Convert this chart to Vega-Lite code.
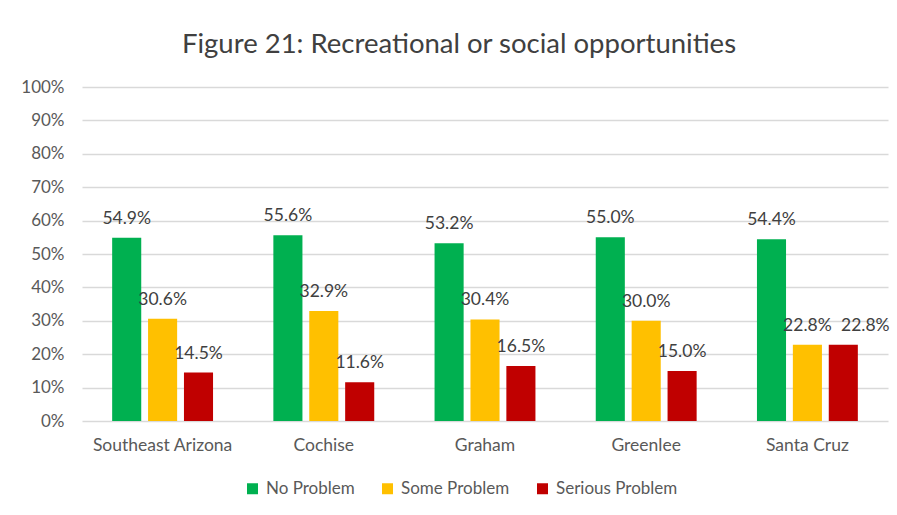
{
  "$schema": "https://vega.github.io/schema/vega-lite/v6.json",
  "width": 806,
  "height": 334,
  "autosize": "none",
  "padding": {"left": 82, "top": 87, "right": 9, "bottom": 94},
  "background": "white",
  "title": {"text": "Figure 21: Recreational or social opportunities", "fontSize": 27.5, "font": "Lato", "fontWeight": "normal", "color": "#404040", "offset": 20, "dx": -26},
  "data": {"values": [
    {"region": "Southeast Arizona", "level": "No Problem", "value": 0.549},
    {"region": "Southeast Arizona", "level": "Some Problem", "value": 0.306},
    {"region": "Southeast Arizona", "level": "Serious Problem", "value": 0.145},
    {"region": "Cochise", "level": "No Problem", "value": 0.556},
    {"region": "Cochise", "level": "Some Problem", "value": 0.329},
    {"region": "Cochise", "level": "Serious Problem", "value": 0.116},
    {"region": "Graham", "level": "No Problem", "value": 0.532},
    {"region": "Graham", "level": "Some Problem", "value": 0.304},
    {"region": "Graham", "level": "Serious Problem", "value": 0.165},
    {"region": "Greenlee", "level": "No Problem", "value": 0.55},
    {"region": "Greenlee", "level": "Some Problem", "value": 0.30},
    {"region": "Greenlee", "level": "Serious Problem", "value": 0.15},
    {"region": "Santa Cruz", "level": "No Problem", "value": 0.544},
    {"region": "Santa Cruz", "level": "Some Problem", "value": 0.228},
    {"region": "Santa Cruz", "level": "Serious Problem", "value": 0.228}
  ]},
  "encoding": {
    "x": {"field": "region", "type": "nominal", "sort": null,
      "scale": {"paddingInner": 0, "paddingOuter": 0},
      "axis": {"title": null, "labelAngle": 0, "domain": false, "ticks": false, "labelPadding": 15, "labelFontSize": 17.5, "labelFont": "Lato", "labelColor": "#595959"}},
    "xOffset": {"field": "level", "type": "nominal", "sort": ["No Problem", "Some Problem", "Serious Problem"],
      "scale": {"paddingInner": 0.19, "paddingOuter": 0.84}},
    "y": {"field": "value", "type": "quantitative",
      "scale": {"domain": [0, 1], "nice": false},
      "axis": {"title": null, "format": ".0%", "values": [0, 0.1, 0.2, 0.3, 0.4, 0.5, 0.6, 0.7, 0.8, 0.9, 1], "labelOverlap": false, "domain": false, "ticks": false, "labelPadding": 18, "labelFontSize": 17, "labelFont": "Lato", "labelColor": "#595959", "gridColor": "#d9d9d9", "gridWidth": 1.5}}
  },
  "layer": [
    {"mark": {"type": "bar"},
     "encoding": {
       "color": {"field": "level", "type": "nominal", "sort": ["No Problem", "Some Problem", "Serious Problem"],
         "scale": {"domain": ["No Problem", "Some Problem", "Serious Problem"], "range": ["#00B050", "#FFC000", "#C00000"]},
         "legend": {"title": null, "orient": "none", "direction": "horizontal", "legendX": 162, "legendY": 393, "symbolType": "square", "symbolSize": 121, "symbolStrokeWidth": 0, "symbolOpacity": 1, "labelFontSize": 17, "labelFont": "Lato", "labelColor": "#595959", "columnPadding": 24, "labelOffset": 5}}
     }},
    {"transform": [{"filter": "!(datum.region === 'Santa Cruz' && datum.level === 'Serious Problem')"}],
     "mark": {"type": "text", "baseline": "bottom", "dy": -10, "fontSize": 17.5, "font": "Lato", "color": "#404040"},
     "encoding": {"text": {"field": "value", "type": "quantitative", "format": ".1%"}}},
    {"transform": [{"filter": "datum.region === 'Santa Cruz' && datum.level === 'Serious Problem'"}],
     "mark": {"type": "text", "baseline": "bottom", "dy": -10, "dx": 22, "fontSize": 17.5, "font": "Lato", "color": "#404040"},
     "encoding": {"text": {"field": "value", "type": "quantitative", "format": ".1%"}}}
  ],
  "config": {"view": {"stroke": null}}
}
